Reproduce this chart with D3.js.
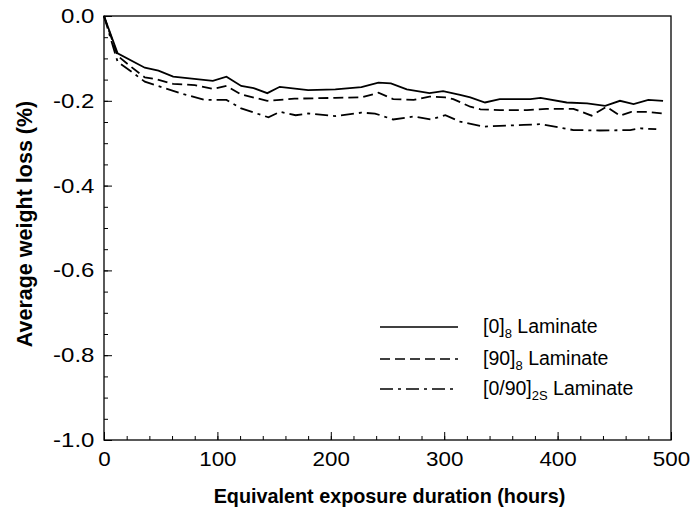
<!DOCTYPE html>
<html><head><meta charset="utf-8">
<script src="https://cdn.jsdelivr.net/npm/d3@7"></script>
<style>body{margin:0;background:#fff}svg{display:block}</style>
</head><body>
<svg id="c" width="693" height="512"></svg>
<script>
const hours0 = [0, 12, 36, 48, 61, 96, 108, 121, 132, 144, 155, 180, 204, 227, 242, 253, 267, 287, 299, 314, 323, 336, 349, 376, 385, 408, 426, 442, 455, 467, 480, 493];
const loss0  = [0, -0.088, -0.122, -0.129, -0.143, -0.153, -0.143, -0.165, -0.170, -0.182, -0.167, -0.175, -0.173, -0.168, -0.157, -0.159, -0.173, -0.182, -0.177, -0.186, -0.192, -0.204, -0.196, -0.196, -0.193, -0.204, -0.206, -0.212, -0.200, -0.208, -0.198, -0.200];
const hours90 = [0, 12, 24, 36, 46, 61, 80, 96, 108, 121, 144, 168, 204, 227, 242, 255, 273, 287, 301, 308, 323, 332, 349, 373, 390, 414, 430, 443, 455, 465, 479, 493];
const loss90  = [0, -0.094, -0.120, -0.145, -0.149, -0.160, -0.163, -0.172, -0.165, -0.185, -0.200, -0.195, -0.193, -0.192, -0.181, -0.196, -0.198, -0.190, -0.192, -0.196, -0.214, -0.220, -0.222, -0.222, -0.219, -0.219, -0.235, -0.214, -0.235, -0.226, -0.226, -0.230];
const hours2S = [0, 12, 24, 36, 51, 71, 89, 108, 121, 145, 155, 169, 180, 204, 227, 239, 255, 273, 288, 301, 314, 335, 349, 370, 385, 414, 437, 464, 473, 487];
const loss2S  = [0, -0.108, -0.131, -0.155, -0.168, -0.185, -0.198, -0.198, -0.218, -0.239, -0.226, -0.234, -0.230, -0.236, -0.228, -0.230, -0.244, -0.237, -0.244, -0.234, -0.249, -0.261, -0.259, -0.257, -0.255, -0.269, -0.270, -0.269, -0.265, -0.267];
const seriesNames = ["[0]8", "[90]8", "[0/90]2S"];
const xTicks = [0, 100, 200, 300, 400, 500];
const yTicks = [0, -0.2, -0.4, -0.6, -0.8, -1.0];
const xTitle = "Equivalent exposure duration (hours)";
const yTitle = "Average weight loss (%)";

const svg = d3.select("#c");
const L = 104, R = 671, T = 16, B = 440;
const x = d3.scaleLinear().domain([0, 500]).range([L, R]);
const y = d3.scaleLinear().domain([-1, 0]).range([B, T]);
const font = "'Liberation Sans', Arial, sans-serif";
const fmtY = v => d3.format(".1f")(v).replace("\u2212", "-");

// frame
svg.append("rect").attr("x", L).attr("y", T).attr("width", R - L).attr("height", B - T)
  .attr("fill", "none").attr("stroke", "#000").attr("stroke-width", 1.3);

// axes
const xMinor = d3.range(0, 501, 20);
const yMinor = d3.range(0, 21).map(i => -i * 0.05);
const gx = svg.append("g").attr("transform", `translate(0,${B})`);
gx.call(d3.axisBottom(x).tickValues(xMinor).tickSize(-4).tickFormat(""));
gx.select(".domain").remove();
const gx2 = svg.append("g").attr("transform", `translate(0,${B})`);
gx2.call(d3.axisBottom(x).tickValues(xTicks).tickSize(-8).tickPadding(12).tickFormat(d3.format("d")));
gx2.select(".domain").remove();
gx2.selectAll("text").attr("font-family", font).attr("font-size", 20).attr("fill", "#000")
  .attr("transform", "scale(1.12,1)");

const gy = svg.append("g").attr("transform", `translate(${L},0)`);
gy.call(d3.axisLeft(y).tickValues(yMinor).tickSize(-4).tickFormat(""));
gy.select(".domain").remove();
const gy2 = svg.append("g").attr("transform", `translate(${L},0)`);
gy2.call(d3.axisLeft(y).tickValues(yTicks).tickSize(-8).tickPadding(8).tickFormat(fmtY));
gy2.select(".domain").remove();
gy2.selectAll("text").attr("font-family", font).attr("font-size", 20).attr("fill", "#000")
  .attr("transform", "scale(1.2,1)");
svg.selectAll("g line").attr("stroke", "#000").attr("stroke-width", 1);

// titles
svg.append("text").attr("x", (L + R) / 2 + 2).attr("y", 503).attr("text-anchor", "middle")
  .attr("font-family", font).attr("font-weight", "bold").attr("font-size", 19.8).text(xTitle);
svg.append("text").attr("transform", `translate(32,224) rotate(-90)`).attr("text-anchor", "middle")
  .attr("font-family", font).attr("font-weight", "bold").attr("font-size", 21.5).text(yTitle);

// lines
const dashes = [null, "10,5", "13,5,3,5"];
const data = [
  d3.zip(hours0, loss0),
  d3.zip(hours90, loss90),
  d3.zip(hours2S, loss2S)
];
const line = d3.line().x(d => x(d[0])).y(d => y(d[1]));
data.forEach((d, i) => {
  svg.append("path").datum(d).attr("d", line).attr("fill", "none").attr("stroke", "#000")
    .attr("stroke-width", 1.8).attr("stroke-dasharray", dashes[i]);
});

// legend
const legY = [327, 359, 389];
const legendLabels = [["[0]", "8"], ["[90]", "8"], ["[0/90]", "2S"]];
seriesNames.forEach((n, i) => {
  svg.append("line").attr("x1", 380).attr("x2", 458).attr("y1", legY[i]).attr("y2", legY[i])
    .attr("stroke", "#000").attr("stroke-width", 1.6).attr("stroke-dasharray", dashes[i]);
  const t = svg.append("text").attr("x", 483).attr("y", legY[i] + 6).attr("font-family", font).attr("font-size", 19.5);
  t.append("tspan").text(legendLabels[i][0]);
  t.append("tspan").attr("font-size", 13).attr("dy", 5).text(legendLabels[i][1]);
  t.append("tspan").attr("dy", -5).text(" Laminate");
});
</script>
</body></html>
